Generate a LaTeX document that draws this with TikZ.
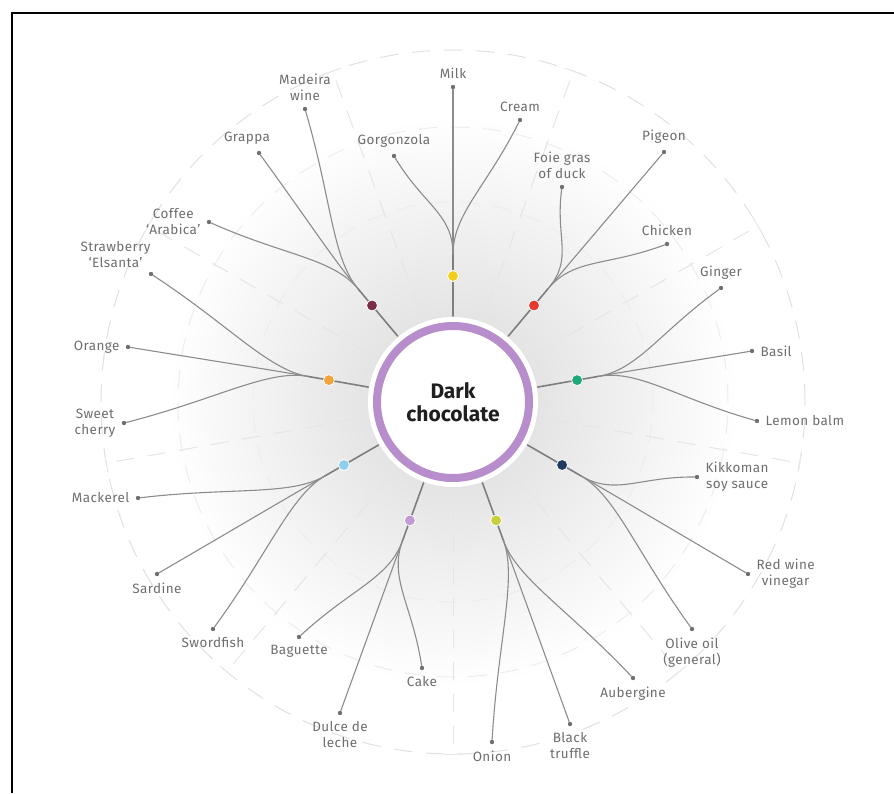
\documentclass[tikz,border=0pt]{standalone}
\usepackage{fontspec}
\setmainfont{Fira Sans}
\newfontfamily\lblfont[LetterSpace=3]{Fira Sans}
\usetikzlibrary{calc}
\definecolor{ringpurple}{HTML}{B88DCB}
\definecolor{linegrey}{HTML}{8C8C8C}
\definecolor{textgrey}{HTML}{6E6E6E}
\definecolor{hubyellow}{HTML}{F2CF1D}
\definecolor{hubred}{HTML}{E8392F}
\definecolor{hubgreen}{HTML}{1FA97A}
\definecolor{hubnavy}{HTML}{1E3A5F}
\definecolor{hublime}{HTML}{C5D33A}
\definecolor{hublilac}{HTML}{C39BD3}
\definecolor{hubblue}{HTML}{8ECFEA}
\definecolor{huborange}{HTML}{F3A43A}
\definecolor{hubmaroon}{HTML}{7B2C48}
\tikzset{
  lbl/.style={font=\lblfont\fontsize{13.5}{16}\selectfont, text=textgrey, align=center, inner sep=1pt, label distance=5pt},
  tip/.style={circle, fill=linegrey!80!black, inner sep=0pt, minimum size=4.4pt},
  hub/.style={circle, draw=white, line width=0.8pt, inner sep=0pt, minimum size=11pt},
  spoke/.style={draw=linegrey!90!black, line width=1.6pt},
  branch/.style={draw=linegrey, line width=1.1pt},
  grid/.style={draw=black!10, line width=1pt, dash pattern=on 18pt off 14pt},
}
\begin{document}
\begin{tikzpicture}[x=1pt, y=1pt, line cap=round]
\useasboundingbox (-453,-391) rectangle (441,402);
% glow and guide rings
\shade[inner color=black!15, outer color=white] (0,0) circle (285);
\draw[grid, draw=black!12] (0,0) circle (352);
\draw[grid, draw=black!7] (0,0) circle (275) (0,0) circle (200);
\foreach \a in {-90,-50,...,230}{
  \draw[grid] (\a:100) -- (\a:352);
  \draw[draw=black!9, line width=1pt] ($(\a:126)+(\a+90:9)$) -- ($(\a:126)+(\a-90:9)$);
  \draw[draw=black!9, line width=1pt] ($(\a:352)+(\a+90:9)$) -- ($(\a:352)+(\a-90:9)$);
}
\fill[white] (0,0) circle (85);
\node[circle, draw=ringpurple, line width=8pt, fill=white, minimum size=152pt, outer sep=10pt,
  font=\fontsize{21}{23}\selectfont\bfseries, text=black!88, align=center] (dc) at (0,0) {Dark\\chocolate};
% ingredients
\node[tip, label={[lbl]above:Milk}] (milk) at (0,315) {};
\node[tip, label={[lbl]above:Gorgonzola}] (gorgonzola) at (-59,246) {};
\node[tip, label={[lbl]above:Cream}] (cream) at (67,282) {};
\node[tip, label={[lbl]above:{Foie gras\\of duck}}] (foiegras) at (109,215) {};
\node[tip, label={[lbl]above:Pigeon}] (pigeon) at (211,250) {};
\node[tip, label={[lbl]above:Chicken}] (chicken) at (214,158) {};
\node[tip, label={[lbl]above:Ginger}] (ginger) at (268,114) {};
\node[tip, label={[lbl]right:Basil}] (basil) at (299,51) {};
\node[tip, label={[lbl]right:Lemon balm}] (lemonbalm) at (304,-19) {};
\node[tip, label={[lbl]right:{Kikkoman\\soy sauce}}] (kikkoman) at (244,-75) {};
\node[tip, label={[lbl]right:{Red wine\\vinegar}}] (vinegar) at (295,-172) {};
\node[tip, label={[lbl]below:{Olive oil\\(general)}}] (oliveoil) at (239,-227) {};
\node[tip, label={[lbl]below:Aubergine}] (aubergine) at (180,-276) {};
\node[tip, label={[lbl]below:{Black\\truffle}}] (truffle) at (117,-322) {};
\node[tip, label={[lbl]below:Onion}] (onion) at (39,-340) {};
\node[tip, label={[lbl]below:Baguette}] (baguette) at (-154,-235) {};
\node[tip, label={[lbl]below:Cake}] (cake) at (-31,-266) {};
\node[tip, label={[lbl]below:{Dulce de\\leche}}] (dulce) at (-113,-311) {};
\node[tip, label={[lbl]left:Mackerel}] (mackerel) at (-315,-96) {};
\node[tip, label={[lbl]below:Sardine}] (sardine) at (-296,-172) {};
\node[tip, label={[lbl]below:Swordfish}] (swordfish) at (-240,-227) {};
\node[tip, label={[lbl]left:Orange}] (orange) at (-325,55) {};
\node[tip, label={[lbl]left:{Sweet\\cherry}}] (cherry) at (-329,-21) {};
\node[tip, label={[lbl,xshift=6]above left:{Strawberry\\‘Elsanta’}}] (strawberry) at (-302,128) {};
\node[tip, label={[lbl]left:{Coffee\\‘Arabica’}}] (coffee) at (-244,180) {};
\node[tip, label={[lbl,xshift=-12]above:Grappa}] (grappa) at (-194,249) {};
\node[tip, label={[lbl]above:{Madeira\\wine}}] (madeira) at (-148,293) {};
% hubs and branches
\foreach \ang/\col/\ends [count=\i] in {
  90/hubyellow/{milk,gorgonzola,cream},
  50/hubred/{foiegras,pigeon,chicken},
  10/hubgreen/{ginger,basil,lemonbalm},
  -30/hubnavy/{kikkoman,vinegar,oliveoil},
  -70/hublime/{aubergine,truffle,onion},
  -110/hublilac/{baguette,cake,dulce},
  -150/hubblue/{mackerel,sardine,swordfish},
  170/huborange/{orange,cherry,strawberry},
  130/hubmaroon/{coffee,grappa,madeira}}{
  \coordinate (s\i) at (\ang:148);
  \draw[spoke] (dc) -- (s\i);
  \foreach \e in \ends
    \draw[branch] (s\i) .. controls +(\ang:40) and ($(s\i)!.5!(\e)$) .. (\e);
  \node[hub, fill=\col] (h\i) at (\ang:126) {};
}
% frame
\draw[line width=2.5pt, line cap=butt] (-441,-391) -- (-441,389) -- (441,389);
\end{tikzpicture}
\end{document}
